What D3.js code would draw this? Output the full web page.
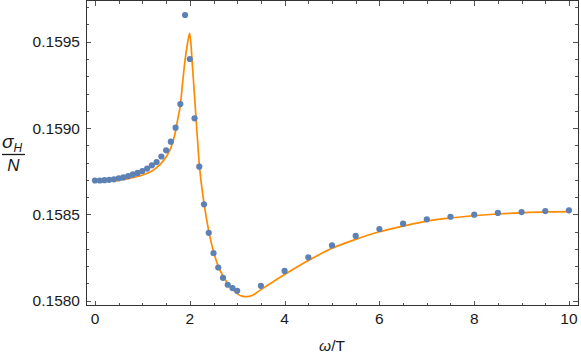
<!DOCTYPE html>
<html>
<head>
<meta charset="utf-8">
<script src="https://cdn.jsdelivr.net/npm/d3@7"></script>
<style>
  body { margin: 0; background: #fff; }
  svg { display: block; font-family: "Liberation Sans", Arial, sans-serif; }
</style>
</head>
<body>
<script>
// data points (omega/T, sigma_H/N)
var pointX = [0, 0.1, 0.2, 0.3, 0.4, 0.5, 0.6, 0.7, 0.8, 0.9, 1.0, 1.1, 1.2, 1.3, 1.4, 1.5, 1.6, 1.7, 1.8, 1.9,
              2.0, 2.1, 2.2, 2.3, 2.4, 2.5, 2.6, 2.7, 2.8, 2.9, 3.0, 3.5, 4.0, 4.5, 5.0, 5.5, 6.0, 6.5, 7.0, 7.5,
              8.0, 8.5, 9.0, 9.5, 10];
var pointY = [0.158696, 0.158696, 0.158698, 0.158700, 0.158703, 0.158709, 0.158714, 0.158722, 0.158731, 0.158740,
              0.158751, 0.158765, 0.158784, 0.158803, 0.158835, 0.158871, 0.158921, 0.159002, 0.159139, 0.159655,
              0.159400, 0.159056, 0.158776, 0.158558, 0.158393, 0.158275, 0.158192, 0.158132, 0.158092, 0.158073,
              0.158057, 0.158086, 0.158172, 0.158251, 0.158320, 0.158375, 0.158415, 0.158446, 0.158471, 0.158486,
              0.158498, 0.158508, 0.158513, 0.158519, 0.158523];

// fitted curve
var curveX = [0.1, 0.3, 0.5, 0.7, 0.9, 1.0, 1.1, 1.2, 1.3, 1.4, 1.5, 1.6, 1.7, 1.75, 1.8, 1.85, 1.9, 1.95, 2.0,
              2.05, 2.1, 2.15, 2.2, 2.3, 2.4, 2.5, 2.6, 2.7, 2.8, 2.9, 3.0, 3.1, 3.2, 3.3, 3.5, 3.75, 4.0, 4.5,
              5.0, 5.5, 6.0, 6.5, 7.0, 7.5, 8.0, 8.5, 9.0, 9.5, 10];
var curveY = [0.158690, 0.158692, 0.158697, 0.158706, 0.158719, 0.158728, 0.158738, 0.158751, 0.158771, 0.158797,
              0.158832, 0.158884, 0.158983, 0.159058, 0.159133, 0.159267, 0.159394, 0.159487, 0.159548,
              0.159382, 0.159185, 0.158983, 0.158791, 0.158565, 0.158403, 0.158284, 0.158200, 0.158143, 0.158099,
              0.158067, 0.158041, 0.158026, 0.158023, 0.158028, 0.158064, 0.158108, 0.158151, 0.158232,
              0.158303, 0.158355, 0.158399, 0.158432, 0.158461, 0.158479, 0.158492, 0.158502, 0.158509, 0.158514, 0.158516];

var xTicks = [0, 2, 4, 6, 8, 10];
var yTicks = [0.1580, 0.1585, 0.1590, 0.1595];

var width = 581, height = 356;
var mLeft = 86, mRight = 578, mTop = 1, mBottom = 306;

var svg = d3.select("body").append("svg")
    .attr("width", width)
    .attr("height", height);

var x = d3.scaleLinear().domain([-0.19, 10.19]).range([mLeft, mRight]);
var y = d3.scaleLinear().domain([0.157969, 0.159736]).range([mBottom, mTop]);

var xMinor = d3.range(0, 10.01, 0.5);
var yMinor = d3.range(0, 18).map(function(i) { return 0.1580 + i * 0.0001; });

var tickCol = "#555";
// ticks on all four sides, pointing inward
var gt = svg.append("g").attr("stroke", tickCol).attr("stroke-width", 1);
xMinor.forEach(function(v) {
    var major = Math.abs(v - Math.round(v / 2) * 2) < 1e-9;
    var len = major ? 5 : 3;
    var px = Math.round(x(v)) + 0.5;
    gt.append("line").attr("x1", px).attr("x2", px).attr("y1", mBottom).attr("y2", mBottom - len);
    gt.append("line").attr("x1", px).attr("x2", px).attr("y1", mTop).attr("y2", mTop + len);
});
yMinor.forEach(function(v, i) {
    var len = (i % 5 === 0) ? 5 : 3;
    var py = Math.round(y(v)) + 0.5;
    gt.append("line").attr("y1", py).attr("y2", py).attr("x1", mLeft).attr("x2", mLeft + len);
    gt.append("line").attr("y1", py).attr("y2", py).attr("x1", mRight).attr("x2", mRight - len);
});

// frame
svg.append("rect")
    .attr("x", mLeft + 0.5).attr("y", mTop - 0.5)
    .attr("width", mRight - mLeft).attr("height", mBottom - mTop)
    .attr("fill", "none").attr("stroke", "#333").attr("stroke-width", 1);

// tick labels
svg.append("g").selectAll("text").data(xTicks).enter().append("text")
    .attr("x", function(d) { return x(d); })
    .attr("y", 324)
    .attr("text-anchor", "middle")
    .attr("font-size", 15.5)
    .attr("fill", "#1a1a1a")
    .text(function(d) { return d; });

svg.append("g").selectAll("text").data(yTicks).enter().append("text")
    .attr("x", 80)
    .attr("y", function(d) { return y(d) + 5.5; })
    .attr("text-anchor", "end")
    .attr("font-size", 15.5)
    .attr("fill", "#1a1a1a")
    .text(function(d) { return d.toFixed(4); });

// axis labels
svg.append("text")
    .attr("x", (mLeft + mRight) / 2)
    .attr("y", 351)
    .attr("text-anchor", "middle")
    .attr("font-size", 15.5)
    .attr("fill", "#1a1a1a")
    .html('<tspan font-style="italic">ω</tspan>/T');

var yl = svg.append("g").attr("fill", "#1a1a1a");
yl.append("text").attr("x", 2).attr("y", 148).attr("font-size", 19).attr("font-style", "italic")
    .html('σ<tspan font-size="12" dy="4">H</tspan>');
yl.append("line").attr("x1", 2).attr("x2", 25).attr("y1", 154.5).attr("y2", 154.5)
    .attr("stroke", "#1a1a1a").attr("stroke-width", 1.3);
yl.append("text").attr("x", 13.5).attr("y", 171).attr("font-size", 17).attr("font-style", "italic")
    .attr("text-anchor", "middle").text("N");

// fit curve
var line = d3.line()
    .x(function(d, i) { return x(curveX[i]); })
    .y(function(d) { return y(d); })
    .curve(d3.curveMonotoneX);

svg.append("path")
    .datum(curveY)
    .attr("d", line)
    .attr("fill", "none")
    .attr("stroke", "#ff8a00")
    .attr("stroke-width", 1.7);

// points
svg.append("g").selectAll("circle").data(pointY).enter().append("circle")
    .attr("cx", function(d, i) { return x(pointX[i]); })
    .attr("cy", function(d) { return y(d); })
    .attr("r", 3.1)
    .attr("fill", "#5e81b5");
</script>
</body>
</html>
